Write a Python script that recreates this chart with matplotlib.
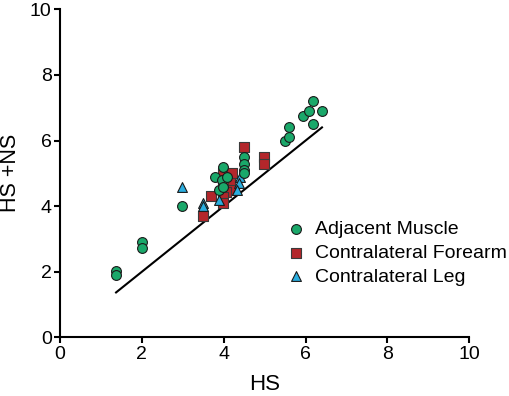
import matplotlib
matplotlib.use("Agg")
import matplotlib.pyplot as plt

plt.rcParams['font.family'] = ['Liberation Sans', 'DejaVu Sans']

adj_x = [1.36, 1.36, 2.0, 2.0, 2.99, 3.79, 3.95, 3.99, 4.09, 3.88, 3.99,
         4.5, 4.5, 4.5, 4.5, 5.5, 5.6, 5.6, 5.93, 6.09, 6.19, 6.19, 6.39]
adj_y = [2.02, 1.90, 2.90, 2.71, 4.0, 4.90, 4.80, 5.20, 4.90, 4.49, 4.59,
         5.51, 5.30, 5.10, 5.0, 6.0, 6.1, 6.4, 6.75, 6.90, 7.20, 6.49, 6.90]

fore_x = [4.5, 4.99, 4.99, 3.68, 3.49, 3.99, 4.19, 4.15, 4.19, 4.06, 3.99, 3.99, 3.99]
fore_y = [5.79, 5.51, 5.30, 4.30, 3.70, 5.0, 5.0, 4.72, 4.50, 4.42, 4.29, 4.10, 4.70]

leg_x = [2.99, 3.49, 3.49, 3.88, 4.4, 4.38, 4.32]
leg_y = [4.59, 4.10, 4.0, 4.2, 4.9, 4.71, 4.49]

line_x = [1.37, 6.4]
line_y = [1.37, 6.4]

fig = plt.figure(figsize=(5.10, 3.96), dpi=100)
ax = fig.add_axes([0.1176, 0.148, 0.8027, 0.8285])

ax.plot(line_x, line_y, color='black', lw=1.5, zorder=1)
ax.scatter(adj_x, adj_y, s=50, marker='o', color='#1aa86a', edgecolor='#1a1a1a',
           linewidth=0.8, label='Adjacent Muscle', zorder=3)
ax.scatter(fore_x, fore_y, s=50, marker='s', color='#b3262b', edgecolor='#3a3a3a',
           linewidth=0.8, label='Contralateral Forearm', zorder=2)
ax.scatter(leg_x, leg_y, s=50, marker='^', color='#2aaee0', edgecolor='#1a1a1a',
           linewidth=0.8, label='Contralateral Leg', zorder=2)

ax.set_xlim(0, 10)
ax.set_ylim(0, 10)
ax.set_xticks([0, 2, 4, 6, 8, 10])
ax.set_yticks([0, 2, 4, 6, 8, 10])
ax.spines['top'].set_visible(False)
ax.spines['right'].set_visible(False)
for s in ['left', 'bottom']:
    ax.spines[s].set_linewidth(1.5)
ax.tick_params(direction='out', length=4, width=1.5, labelsize=14, pad=2)
ax.set_xlabel('HS', fontsize=16, labelpad=8)
ax.set_ylabel('HS +NS', fontsize=15.5)
ax.yaxis.set_label_coords(-0.095, 0.5)

ax.legend(loc='center left', bbox_to_anchor=(0.548, 0.257), frameon=False,
          fontsize=14, handletextpad=0.4, labelspacing=0.31, borderaxespad=0,
          borderpad=0, handlelength=1.2)

fig.savefig('out.png', dpi=100)
